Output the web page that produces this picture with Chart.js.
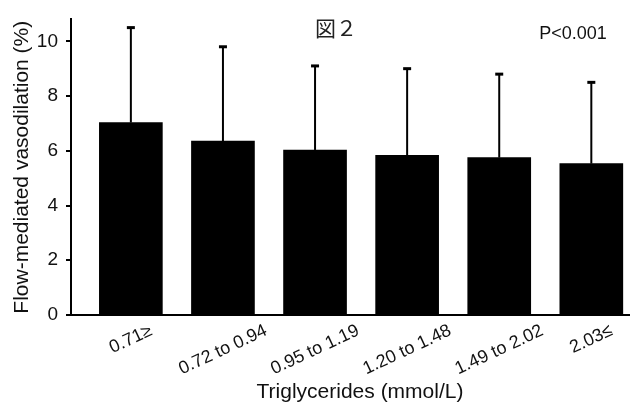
<!DOCTYPE html>
<html>
<head>
<meta charset="utf-8">
<script src="https://cdn.jsdelivr.net/npm/chart.js@4.4.1/dist/chart.umd.min.js"></script>
<style>
  html, body { margin: 0; padding: 0; background: #fff; overflow: hidden; }
  #wrap { width: 630px; height: 403px; }
</style>
</head>
<body>
<div id="wrap"><canvas id="fmdChart"></canvas></div>
<script>
// Triglyceride groups and FMD mean / SD
const categories = ['0.71\u2265', '0.72 to 0.94', '0.95 to 1.19', '1.20 to 1.48', '1.49 to 2.02', '2.03\u2264'];
const fmdMean = [7.03, 6.35, 6.03, 5.83, 5.75, 5.53];
const fmdSd = [3.47, 3.45, 3.07, 3.17, 3.05, 2.97];
const yTicks = [0, 2, 4, 6, 8, 10];

const figTitle = '図２';
const pText = 'P<0.001';
const xTitle = 'Triglycerides (mmol/L)';
const yTitle = 'Flow-mediated vasodilation (%)';

const FONT = '"Liberation Sans", Arial, sans-serif';

// SD whiskers on top of each bar
const errorBars = {
    id: 'errorBars',
    afterDatasetsDraw(chart) {
        const { ctx, scales: { x, y } } = chart;
        ctx.save();
        ctx.strokeStyle = '#000';
        fmdMean.forEach((m, i) => {
            const px = x.getPixelForValue(i);
            const yBar = y.getPixelForValue(m);
            const yTop = y.getPixelForValue(m + fmdSd[i]);
            ctx.lineWidth = 2;
            ctx.beginPath();
            ctx.moveTo(px, yBar);
            ctx.lineTo(px, yTop);
            ctx.stroke();
            ctx.lineWidth = 3;
            ctx.beginPath();
            ctx.moveTo(px - 4, yTop);
            ctx.lineTo(px + 4, yTop);
            ctx.stroke();
        });
        ctx.restore();
    }
};

// rotated category labels (box centred under the bar) and the loose texts
const labels = {
    id: 'labels',
    afterDraw(chart) {
        const { ctx, scales: { x, y } } = chart;
        const ang = 25 * Math.PI / 180;
        ctx.save();
        ctx.fillStyle = '#111';
        ctx.font = '18px ' + FONT;
        ctx.textAlign = 'center';
        ctx.textBaseline = 'middle';
        const top = y.bottom + 9;
        categories.forEach((c, i) => {
            const w = ctx.measureText(c).width;
            const h = 13;
            const halfH = (w * Math.sin(ang) + h * Math.cos(ang)) / 2;
            ctx.save();
            ctx.translate(x.getPixelForValue(i), top + halfH);
            ctx.rotate(-ang);
            ctx.fillText(c, 0, 0);
            ctx.restore();
        });

        ctx.font = '21px ' + FONT;
        ctx.fillText(xTitle, 360, 392);

        ctx.font = '18px ' + FONT;
        ctx.fillText(pText, 573, 34);

        ctx.font = '21px "Noto Sans CJK JP"';
        ctx.fillStyle = '#222';
        ctx.fillText(figTitle, 336, 28);
        ctx.restore();
    }
};

new Chart(document.getElementById('fmdChart'), {
    type: 'bar',
    data: {
        datasets: [{
            data: fmdMean.map((v, i) => ({ x: i, y: v })),
            backgroundColor: '#000',
            borderWidth: 0,
            barThickness: 63
        }]
    },
    options: {
        responsive: true,
        maintainAspectRatio: false,
        animation: false,
        layout: { padding: { top: 15, right: 0, left: 0, bottom: 0 } },
        plugins: {
            legend: { display: false },
            tooltip: { enabled: false }
        },
        scales: {
            x: {
                type: 'linear',
                offset: false,
                min: -0.65,
                max: 5.42,
                ticks: { display: false },
                grid: { display: false },
                border: { color: '#000', width: 2 },
                afterFit: (s) => { s.height = 88; }
            },
            y: {
                min: 0,
                max: 10.8,
                afterBuildTicks: (s) => { s.ticks = yTicks.map(v => ({ value: v })); },
                ticks: {
                    color: '#111',
                    padding: 8,
                    font: { family: FONT, size: 19 }
                },
                grid: { drawOnChartArea: false, drawTicks: true, tickLength: 5, color: '#000', lineWidth: 2 },
                border: { color: '#000', width: 2 },
                title: {
                    display: true,
                    text: yTitle,
                    color: '#111',
                    font: { family: FONT, size: 21 },
                    padding: { top: 10, bottom: 0 }
                },
                afterFit: (s) => { s.width = 71; }
            }
        }
    },
    plugins: [errorBars, labels]
});
</script>
</body>
</html>
